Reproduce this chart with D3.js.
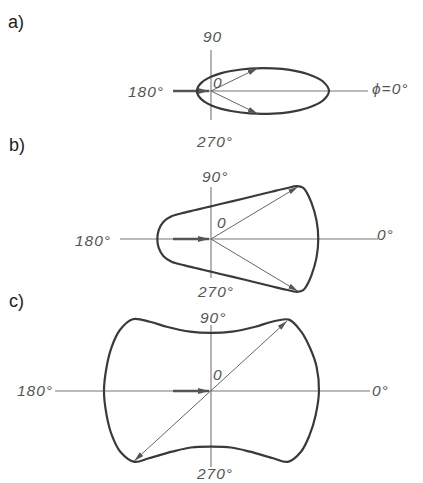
<!DOCTYPE html>
<html><head><meta charset="utf-8">
<script src="https://cdn.jsdelivr.net/npm/d3@7"></script>
<style>body{margin:0;background:#fff}svg{display:block}</style>
</head><body>
<script>
// ---- data (polar patterns: angle in degrees, radius in relative units) ----
const panelNames = ["a)", "b)", "c)"];

const anglesA = [0,5,10,15,20,30,45,60,90,120,135,150,165,180,195,210,225,240,270,300,315,330,340,345,350,355];
const radiiA  = [100,95,83,69,56,38,24,17.5,12,10.6,10.6,11,11.6,11.9,11.6,11,10.6,10.6,12,17.5,24,38,56,69,83,95];

const anglesB = [0,10,20,26,29,31.5,34,38,45,60,75,90,105,120,135,150,160,170,180,190,200,210,225,240,255,270,285,300,315,322,326,328.5,331,334,340,350];
const radiiB  = [90.9,90.8,90.5,90.2,89.4,85.6,76.9,65,51.5,37.1,30.7,27.7,27,28.1,31.6,38.6,42.8,44.9,45.5,44.9,42.8,38.6,31.6,28.1,27,27.7,30.7,37.1,51.5,65,76.9,85.6,89.4,90.2,90.5,90.8];

const anglesC = [0,13,23,33.5,42.5,48.6,55.4,70.5,90,109.5,124.6,131.4,137.5,146.2,156,166.9,180,193,204,214,222.7,227.2,237.3,250.5,270,289.5,302.7,312.8,317.3,326,336,347];
const radiiC  = [91.5,91.8,91.5,91.5,89.5,78.2,66.2,53.3,49.2,53.3,66.2,78.2,90,92.9,92.1,90.8,90.7,90.8,92,92.5,88.5,77.7,61.1,50.8,47.2,50.8,61.1,77.7,88.5,92,91.5,91];

// vectors drawn inside each pattern
const vecAnglesA = [26, 334];     const vecLenA = [44, 44];
const vecAnglesB = [31, 329];     const vecLenB = [86, 86];
const vecAnglesC = [42.6, 222.3]; const vecLenC = [87.5, 88];

// axis labels
const labels90  = ["90", "90°", "90°"];
const labels180 = ["180°", "180°", "180°"];
const labels270 = ["270°", "270°", "270°"];
const labels0   = ["ϕ=0°", "0°", "0°"];
const originLabel = "0";

// ---- drawing ----
const W = 423, H = 483;
const svg = d3.select("body").append("svg").attr("width", W).attr("height", H);
const defs = svg.append("defs");
function marker(id, len, wid, orient) {
  defs.append("marker").attr("id", id)
    .attr("viewBox", `0 ${-wid} ${len} ${2*wid}`)
    .attr("refX", len).attr("refY", 0)
    .attr("markerWidth", len).attr("markerHeight", 2*wid)
    .attr("markerUnits", "userSpaceOnUse")
    .attr("orient", orient)
    .append("path").attr("d", `M0,${-wid}L${len},0L0,${wid}Z`).attr("fill", "#555");
}
marker("ah", 10, 2.6, "auto");
marker("ahs", 10, 2.6, "auto-start-reverse");
marker("feed", 11, 3, "auto");

const r = d3.scaleLinear().domain([0, 100]).range([0, 118]);
const toRad = d => (90 - d) * Math.PI / 180; // math angle -> d3 radial angle

const panels = [
  {ox: 211, oy: 91,  h: [175, 368], v: [50, 120],  ang: anglesA, rad: radiiA, va: vecAnglesA, vl: vecLenA, dbl: false,
   p90: [203, 42], p180: [128, 97], p270: [197, 147], p0: [372, 94], pO: [213, 88], lab: [8, 28]},
  {ox: 211, oy: 239, h: [120, 378], v: [187, 278], ang: anglesB, rad: radiiB, va: vecAnglesB, vl: vecLenB, dbl: false,
   p90: [202, 182], p180: [75, 246], p270: [198, 297], p0: [377, 240], pO: [217, 228], lab: [9, 151]},
  {ox: 211, oy: 391, h: [55, 370],  v: [325, 467], ang: anglesC, rad: radiiC, va: vecAnglesC, vl: vecLenC, dbl: true,
   p90: [200, 323], p180: [17, 396], p270: [197, 479], p0: [372, 396], pO: [213, 380], lab: [9, 307]}
];

const lineR = d3.lineRadial()
  .angle(d => toRad(d[0]))
  .radius(d => r(d[1]))
  .curve(d3.curveCatmullRomClosed.alpha(0.5));

const labStyle = s => s.attr("font-family", "'Liberation Sans',Arial,sans-serif")
  .attr("font-style", "italic").attr("font-size", 15.5).attr("fill", "#555").attr("letter-spacing", 1);

panels.forEach((p, i) => {
  const g = svg.append("g");
  g.append("text").attr("x", p.lab[0]).attr("y", p.lab[1]).text(panelNames[i])
    .attr("font-family", "'Liberation Sans',Arial,sans-serif").attr("font-size", 18).attr("fill", "#222");
  g.append("line").attr("x1", p.h[0]).attr("x2", p.h[1]).attr("y1", p.oy).attr("y2", p.oy)
    .attr("stroke", "#777").attr("stroke-width", 1.1);
  g.append("line").attr("x1", p.ox).attr("x2", p.ox).attr("y1", p.v[0]).attr("y2", p.v[1])
    .attr("stroke", "#777").attr("stroke-width", 1.1);
  g.append("line").attr("x1", p.ox - 38).attr("x2", p.ox - 2).attr("y1", p.oy).attr("y2", p.oy)
    .attr("stroke", "#555").attr("stroke-width", 2.4).attr("marker-end", "url(#feed)");
  const pg = g.append("g").attr("transform", `translate(${p.ox},${p.oy})`);
  pg.append("path").datum(p.ang.map((a, k) => [a, p.rad[k]]))
    .attr("d", lineR).attr("fill", "none").attr("stroke", "#3a3a3a").attr("stroke-width", 2.2);
  if (p.dbl) {
    const a0 = p.va[0] * Math.PI / 180, a1 = p.va[1] * Math.PI / 180;
    pg.append("line")
      .attr("x1", r(p.vl[1]) * Math.cos(a1)).attr("y1", -r(p.vl[1]) * Math.sin(a1))
      .attr("x2", r(p.vl[0]) * Math.cos(a0)).attr("y2", -r(p.vl[0]) * Math.sin(a0))
      .attr("stroke", "#666").attr("stroke-width", 1)
      .attr("marker-start", "url(#ahs)").attr("marker-end", "url(#ah)");
  } else {
    p.va.forEach((a, k) => {
      const t = a * Math.PI / 180;
      pg.append("line").attr("x1", 0).attr("y1", 0)
        .attr("x2", r(p.vl[k]) * Math.cos(t)).attr("y2", -r(p.vl[k]) * Math.sin(t))
        .attr("stroke", "#666").attr("stroke-width", 1).attr("marker-end", "url(#ah)");
    });
  }
  g.append("text").attr("x", p.p90[0]).attr("y", p.p90[1]).text(labels90[i]).call(labStyle);
  g.append("text").attr("x", p.p180[0]).attr("y", p.p180[1]).text(labels180[i]).call(labStyle);
  g.append("text").attr("x", p.p270[0]).attr("y", p.p270[1]).text(labels270[i]).call(labStyle);
  g.append("text").attr("x", p.p0[0]).attr("y", p.p0[1]).text(labels0[i]).call(labStyle);
  g.append("text").attr("x", p.pO[0]).attr("y", p.pO[1]).text(originLabel).call(labStyle);
});
</script>
</body></html>
